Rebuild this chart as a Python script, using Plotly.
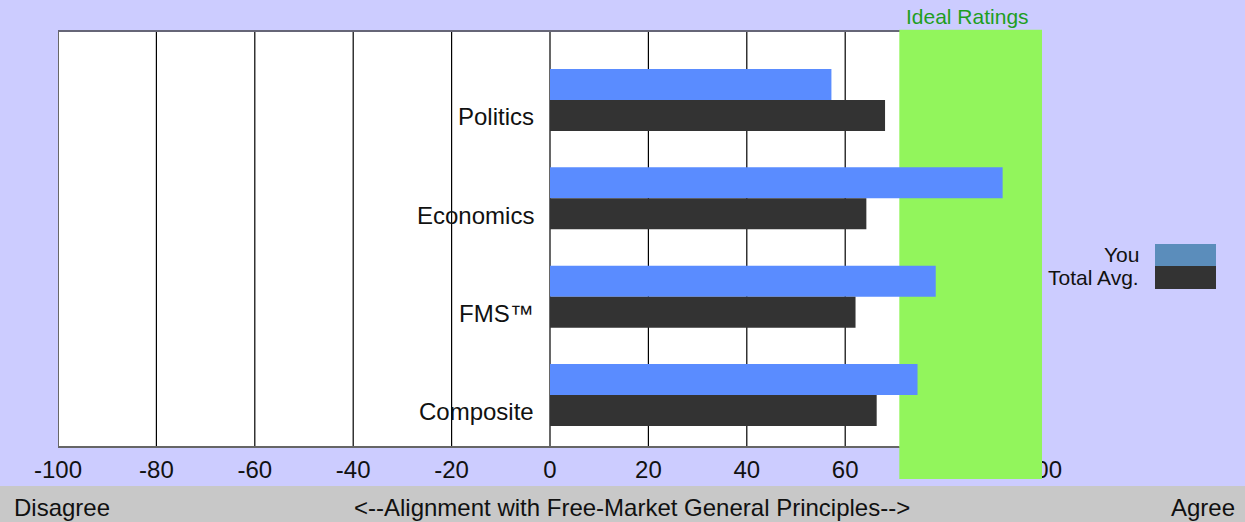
import plotly.graph_objects as go

# ---- data ----
categories = ["Politics", "Economics", "FMS™", "Composite"]
cat_pos = [3, 2, 1, 0]
you_values = [57.2, 92.0, 78.4, 74.7]
avg_values = [68.1, 64.3, 62.1, 66.4]
series_names = ["You", "Total Avg."]
x_ticks = [-100, -80, -60, -40, -20, 0, 20, 40, 60, 80, 100]
ideal_range = [71, 100]
bottom_labels = ["Disagree", "<--Alignment with Free-Market General Principles-->", "Agree"]

# ---- layout geometry ----
W, H = 1245, 522
ML, MR, MT, MB = 58, 203, 31, 75
PW, PH = W - ML - MR, H - MT - MB

def px(x):
    return (x - ML) / PW

def py(y):
    return (H - MB - y) / PH

FONT = "Arial, Liberation Sans, sans-serif"
BLUE = "#5A8CFF"
DARK = "#333333"
LEG_BLUE = "#5B8DBB"
GREEN = "#92F55C"
BG = "#CCCCFF"
BAR_W = 0.315

fig = go.Figure()
fig.add_trace(go.Bar(y=cat_pos, x=you_values, orientation="h", name=series_names[0],
                     marker=dict(color=BLUE, line=dict(width=0)), width=BAR_W, offset=0,
                     showlegend=False))
fig.add_trace(go.Bar(y=cat_pos, x=avg_values, orientation="h", name=series_names[1],
                     marker=dict(color=DARK, line=dict(width=0)), width=BAR_W, offset=-BAR_W,
                     showlegend=False))

shapes = []
# bottom grey strip
shapes.append(dict(type="rect", xref="paper", yref="paper", x0=px(0), x1=px(W), y0=py(H), y1=py(486),
                   fillcolor="#C8C8C8", line=dict(width=0), layer="below"))
# vertical grid lines
for v in x_ticks:
    shapes.append(dict(type="line", xref="x", yref="paper", x0=v, x1=v, y0=0, y1=1,
                       line=dict(color="#000000", width=1.2), layer="below"))
# frame lines
shapes.append(dict(type="line", xref="paper", yref="paper", x0=0, x1=1, y0=1, y1=1,
                   line=dict(color="#666677", width=2), layer="below"))
shapes.append(dict(type="line", xref="paper", yref="paper", x0=0, x1=1, y0=0, y1=0,
                   line=dict(color="#666666", width=2), layer="below"))
# ideal band
shapes.append(dict(type="rect", xref="x", yref="paper", x0=ideal_range[0], x1=ideal_range[1], y0=0, y1=1.003,
                   fillcolor=GREEN, line=dict(width=0), layer="below"))
shapes.append(dict(type="rect", xref="x", yref="paper", x0=ideal_range[0], x1=ideal_range[1], y0=py(479), y1=0.003,
                   fillcolor=GREEN, line=dict(width=0), layer="above"))
# legend swatches
shapes.append(dict(type="rect", xref="paper", yref="paper", x0=px(1155), x1=px(1216), y0=py(266), y1=py(244),
                   fillcolor=LEG_BLUE, line=dict(width=0), layer="above"))
shapes.append(dict(type="rect", xref="paper", yref="paper", x0=px(1155), x1=px(1216), y0=py(289), y1=py(266),
                   fillcolor=DARK, line=dict(width=0), layer="above"))

annotations = []
for c, p in zip(categories, cat_pos):
    annotations.append(dict(x=0, y=p - 0.17, xref="x", yref="y", text=c, showarrow=False,
                            xanchor="right", yanchor="middle", xshift=-14,
                            font=dict(family=FONT, size=24, color="#111111")))
annotations.append(dict(x=px(1140), y=py(254), xref="paper", yref="paper", text=series_names[0],
                        showarrow=False, xanchor="right", yanchor="middle", borderpad=0,
                        font=dict(family=FONT, size=21, color="#111111")))
annotations.append(dict(x=px(1140), y=py(277), xref="paper", yref="paper", text=series_names[1],
                        showarrow=False, xanchor="right", yanchor="middle", borderpad=0,
                        font=dict(family=FONT, size=21, color="#111111")))
annotations.append(dict(x=px(967), y=py(17), xref="paper", yref="paper", text="Ideal Ratings",
                        showarrow=False, xanchor="center", yanchor="middle",
                        font=dict(family=FONT, size=21, color="#1E9E1E")))
annotations.append(dict(x=px(12), y=py(507), xref="paper", yref="paper", text=bottom_labels[0],
                        showarrow=False, xanchor="left", yanchor="middle",
                        font=dict(family=FONT, size=24, color="#111111")))
annotations.append(dict(x=px(632), y=py(507), xref="paper", yref="paper", text=bottom_labels[1],
                        showarrow=False, xanchor="center", yanchor="middle",
                        font=dict(family=FONT, size=24, color="#111111")))
annotations.append(dict(x=px(1237), y=py(507), xref="paper", yref="paper", text=bottom_labels[2],
                        showarrow=False, xanchor="right", yanchor="middle",
                        font=dict(family=FONT, size=24, color="#111111")))

fig.update_layout(
    width=W, height=H,
    margin=dict(l=ML, r=MR, t=MT, b=MB, pad=0),
    paper_bgcolor=BG, plot_bgcolor="#FFFFFF",
    barmode="overlay",
    showlegend=False,
    shapes=shapes,
    annotations=annotations,
    xaxis=dict(range=[-100, 100], tickvals=x_ticks, ticktext=[str(v) for v in x_ticks],
               showgrid=False, zeroline=False, showline=False, ticks="", ticklen=0,
               ticklabelstandoff=6, fixedrange=True,
               tickfont=dict(family=FONT, size=24, color="#111111")),
    yaxis=dict(range=[-0.529, 3.702], showticklabels=False, showgrid=False, zeroline=False,
               showline=False, ticks="", fixedrange=True),
)

fig.write_html("out.html", config={"displayModeBar": False},
               post_script="document.body.style.margin='0';document.body.style.padding='0';")
